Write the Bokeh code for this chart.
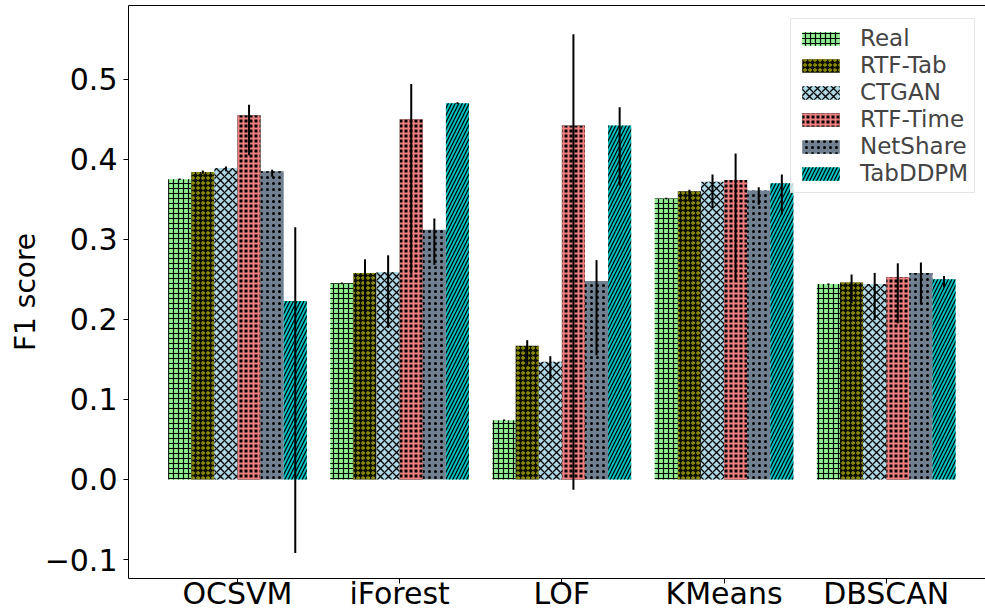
from bokeh.plotting import figure
from bokeh.models import (ColumnDataSource, FixedTicker, Legend, LegendItem, Range1d,
                          LinearAxis)
from bokeh.embed import file_html
from bokeh.resources import INLINE

categories = ["OCSVM", "iForest", "LOF", "KMeans", "DBSCAN"]
series = ["Real", "RTF-Tab", "CTGAN", "RTF-Time", "NetShare", "TabDDPM"]

real = [0.375, 0.245, 0.074, 0.351, 0.244]
real_lo = [0.374, 0.244, 0.073, 0.350, 0.243]
real_hi = [0.376, 0.246, 0.075, 0.352, 0.245]

rtf_tab = [0.384, 0.258, 0.167, 0.360, 0.246]
rtf_tab_lo = [0.382, 0.206, 0.143, 0.349, 0.220]
rtf_tab_hi = [0.386, 0.275, 0.174, 0.362, 0.256]

ctgan = [0.389, 0.259, 0.147, 0.372, 0.244]
ctgan_lo = [0.385, 0.189, 0.124, 0.339, 0.199]
ctgan_hi = [0.391, 0.280, 0.154, 0.381, 0.258]

rtf_time = [0.455, 0.450, 0.442, 0.374, 0.253]
rtf_time_lo = [0.405, 0.256, -0.013, 0.247, 0.195]
rtf_time_hi = [0.468, 0.494, 0.556, 0.407, 0.270]

netshare = [0.385, 0.312, 0.248, 0.361, 0.258]
netshare_lo = [0.378, 0.268, 0.155, 0.343, 0.219]
netshare_hi = [0.387, 0.326, 0.274, 0.365, 0.271]

tabddpm = [0.223, 0.470, 0.442, 0.370, 0.250]
tabddpm_lo = [-0.092, 0.469, 0.367, 0.331, 0.240]
tabddpm_hi = [0.315, 0.471, 0.465, 0.381, 0.254]

y_ticks = [-0.1, 0.0, 0.1, 0.2, 0.3, 0.4, 0.5]
y_tick_labels = ["\u22120.1", "0.0", "0.1", "0.2", "0.3", "0.4", "0.5"]

values = [real, rtf_tab, ctgan, rtf_time, netshare, tabddpm]
lows = [real_lo, rtf_tab_lo, ctgan_lo, rtf_time_lo, netshare_lo, tabddpm_lo]
highs = [real_hi, rtf_tab_hi, ctgan_hi, rtf_time_hi, netshare_hi, tabddpm_hi]

styles = [
    dict(fill_color="#90EE90", hatch_color="black", hatch_pattern="+", hatch_scale=5, hatch_weight=1.2),
    dict(fill_color="#111100", hatch_color="#bfbf00", hatch_pattern="o", hatch_scale=5, hatch_weight=1.0),
    dict(fill_color="#ADD8E6", hatch_color="black", hatch_pattern="x", hatch_scale=8, hatch_weight=1.3),
    dict(fill_color="black", hatch_color="#F08080", hatch_pattern="+", hatch_scale=5, hatch_weight=2.0),
    dict(fill_color="#708090", hatch_color="black", hatch_pattern=".", hatch_scale=6, hatch_weight=1.0),
    dict(fill_color="#00BFBF", hatch_color="black", hatch_pattern="/", hatch_scale=7, hatch_weight=1.2),
]

bar_w = 0.1425
y_lo, y_hi = -0.1237, 0.592

p = figure(width=985, height=613, output_backend="svg", toolbar_location=None,
           x_range=Range1d(-0.672, 4.612), y_range=Range1d(y_lo, y_hi),
           min_border_left=128, min_border_right=0, min_border_top=5, min_border_bottom=35)

items = []
for i, name in enumerate(series):
    off = (i - 2.5) * bar_w
    xs = [k + off for k in range(len(categories))]
    src = ColumnDataSource(dict(x=xs, top=values[i], lo=lows[i], hi=highs[i]))
    r = p.vbar(x="x", top="top", bottom=0, width=bar_w, source=src, line_color=None,
               **styles[i])
    p.segment(x0="x", x1="x", y0="lo", y1="hi", source=src, line_color="black", line_width=2)
    items.append(LegendItem(label=name, renderers=[r]))

legend = Legend(items=items, location=(662, 385), label_text_font_size="23px",
                label_text_font="DejaVu Sans", glyph_width=47, glyph_height=17,
                spacing=1, padding=6, margin=0, label_standoff=16,
                border_line_color="#cccccc", border_line_width=1, background_fill_alpha=0.8)
p.add_layout(legend)

p.xgrid.visible = False
p.ygrid.visible = False
p.outline_line_color = None

xax = p.xaxis[0]
yax = p.yaxis[0]
yax.ticker = FixedTicker(ticks=y_ticks)
yax.major_label_overrides = {t: l for t, l in zip(y_ticks, y_tick_labels)}
xax.ticker = FixedTicker(ticks=list(range(len(categories))))
xax.major_label_overrides = {i: c for i, c in enumerate(categories)}

for ax in (xax, yax):
    ax.major_label_text_font = "DejaVu Sans"
    ax.major_label_text_font_size = "30px"
    ax.major_label_text_color = "black"
    ax.minor_tick_line_color = None
    ax.major_tick_in = 0
    ax.major_tick_out = 5
    ax.major_tick_line_color = "black"
    ax.axis_line_color = "black"
xax.major_label_standoff = -8

top_axis = LinearAxis(ticker=FixedTicker(ticks=[]), axis_line_color="black",
                      major_tick_line_color=None, minor_tick_line_color=None,
                      major_label_text_font_size="0px")
p.add_layout(top_axis, "above")

yax.axis_label = "F1 score"
yax.axis_label_text_font = "DejaVu Sans"
yax.axis_label_text_font_size = "28px"
yax.axis_label_text_font_style = "normal"
yax.axis_label_text_color = "black"
yax.axis_label_standoff = 0
yax.major_label_standoff = 6

open("out.html", "w").write(file_html(p, INLINE))
